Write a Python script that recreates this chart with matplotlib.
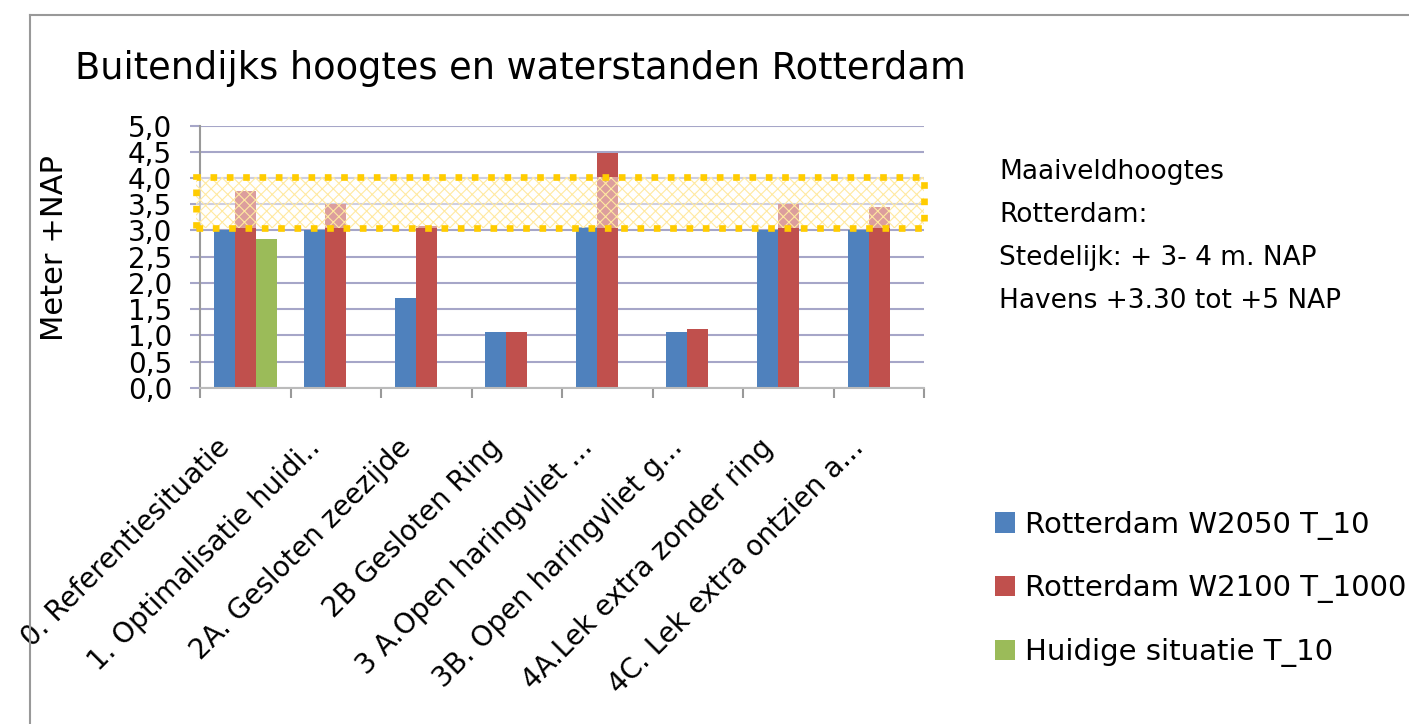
import numpy as np
import matplotlib
matplotlib.use("Agg")
import matplotlib.pyplot as plt
from matplotlib.patches import Rectangle
from matplotlib.lines import Line2D
from matplotlib.transforms import ScaledTranslation

plt.rcParams["font.family"] = ["DejaVu Sans"]

categories = [
    "0. Referentiesituatie",
    "1. Optimalisatie huidi..",
    "2A. Gesloten zeezijde",
    "2B Gesloten Ring",
    "3 A.Open haringvliet ...",
    "3B. Open haringvliet g...",
    "4A.Lek extra zonder ring",
    "4C. Lek extra ontzien a...",
]
w2050_t10 = [3.0, 3.0, 1.72, 1.07, 3.07, 1.07, 3.0, 3.0]
w2100_t1000 = [3.76, 3.5, 3.09, 1.07, 4.47, 1.12, 3.5, 3.45]
huidig_t10 = [2.84, None, None, None, None, None, None, None]
series_names = ["Rotterdam W2050 T_10", "Rotterdam W2100 T_1000", "Huidige situatie T_10"]
y_ticks = [0.0, 0.5, 1.0, 1.5, 2.0, 2.5, 3.0, 3.5, 4.0, 4.5, 5.0]
band_low, band_high = 3.05, 4.02

colors = ["#4F81BD", "#C0504D", "#9BBB59"]
grid_color = "#A6A6C8"

fig = plt.figure(figsize=(14.09, 7.24), dpi=100)
ax = fig.add_axes([0.142, 0.4645, 0.514, 0.3619])

x = np.arange(len(categories)) + 0.5
width = 0.232
bars = []
for i, vals in enumerate([w2050_t10, w2100_t1000, huidig_t10]):
    xs = [xx + (i - 1) * width for xx, v in zip(x, vals) if v is not None]
    hs = [v for v in vals if v is not None]
    b = ax.bar(xs, hs, width=width, color=colors[i], label=series_names[i], zorder=2)
    bars.append(b)

ax.set_xlim(0, len(categories))
ax.set_ylim(0, 5)
ax.set_yticks(y_ticks)
ax.set_yticklabels([f"{t:.1f}".replace(".", ",") for t in y_ticks], fontsize=20)
ax.yaxis.grid(True, color=grid_color, linewidth=1.5, zorder=0)
ax.tick_params(axis="y", length=7.2, color=grid_color, width=1.5, pad=13)

# category boundaries as ticks, labels at centres
ax.set_xticks(np.arange(len(categories) + 1))
ax.set_xticklabels([])
ax.set_xticks(x, minor=True)
ax.set_xticklabels(categories, minor=True, rotation=45, ha="right", va="baseline",
                   rotation_mode="anchor", fontsize=20)
ax.tick_params(axis="x", which="major", length=7.2, color="#999999", width=1.5)
ax.tick_params(axis="x", which="minor", length=0, pad=44)
shift = ScaledTranslation(-14 / 100, 0, fig.dpi_scale_trans)
for lbl in ax.get_xticklabels(minor=True):
    lbl.set_transform(lbl.get_transform() + shift)

for s in ["top", "right"]:
    ax.spines[s].set_visible(False)
ax.spines["left"].set_color("#999999")
ax.spines["bottom"].set_color("#BBBBBB")
ax.spines["left"].set_linewidth(1.5)
ax.spines["bottom"].set_linewidth(1.5)

# band with maaiveld heights
ax.add_patch(Rectangle((-0.04, band_low), len(categories) + 0.04, band_high - band_low,
                       facecolor="white", alpha=0.45, edgecolor="none",
                       zorder=3, clip_on=False))
plt.rcParams["hatch.linewidth"] = 0.8
ax.add_patch(Rectangle((-0.04, band_low), len(categories) + 0.04, band_high - band_low,
                       fill=False, hatch="xxx", edgecolor="#FFE9A0", linewidth=0,
                       zorder=3, clip_on=False))
ax.add_patch(Rectangle((-0.04, band_low), len(categories) + 0.04, band_high - band_low,
                       fill=False, edgecolor="#FFCC00", linewidth=4.8,
                       linestyle=(0, (1, 1.45)), capstyle="butt",
                       zorder=4, clip_on=False))

fig.text(55 / 1409, 1 - 248 / 724, "Meter +NAP", fontsize=22, rotation=90,
         ha="center", va="center")

fig.text(0.053, 0.905, "Buitendijks hoogtes en waterstanden Rotterdam", fontsize=26.5,
         va="center", ha="left")

fig.text(0.709, 0.781,
         "Maaiveldhoogtes\nRotterdam:\nStedelijk: + 3- 4 m. NAP\nHavens +3.30 tot +5 NAP",
         fontsize=19, va="top", ha="left", linespacing=1.85)

fig.legend(handles=[b for b in bars], labels=series_names, loc="upper left",
           bbox_to_anchor=(0.6875, 0.331), frameon=False, fontsize=21,
           handlelength=0.69, handleheight=0.69, handletextpad=0.34,
           labelspacing=1.19)

# outer chart frame
fig.add_artist(Line2D([30 / 1409, 1.0], [1 - 15 / 724, 1 - 15 / 724], color="#999999", linewidth=1.5))
fig.add_artist(Line2D([30 / 1409, 30 / 1409], [0, 1 - 15 / 724], color="#999999", linewidth=1.5))

fig.savefig("out.png", dpi=100)
